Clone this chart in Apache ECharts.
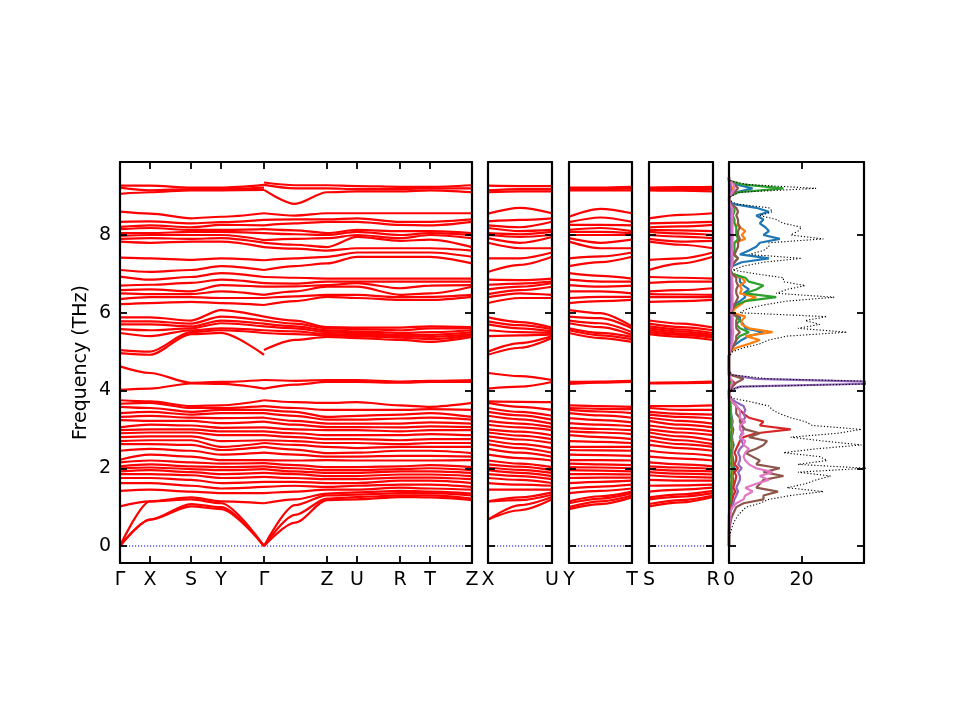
<!DOCTYPE html>
<html>
<head>
<meta charset="utf-8">
<script src="https://cdn.jsdelivr.net/npm/echarts@6/dist/echarts.min.js"></script>
<style>
html,body{margin:0;padding:0;background:#fff;}
#chart{width:960px;height:720px;}
</style>
</head>
<body>
<div id="chart"></div>
<script>
// ---------- Band structure data (THz), sorted band values at each k-point ----------
const kG0 = [0,0,0, 1.02,1.42,1.62,1.75,1.85,1.92,2.00,2.05,2.15, 2.22,2.45,2.62,2.70,2.80,2.90,2.98, 3.05,3.24,3.32,3.42,3.58,3.66,3.75, 4.02,4.62, 4.96,5.04,5.48,5.58,5.70,5.78,5.88, 6.22,6.35,6.50,6.58,6.70,6.93, 7.10,7.42, 7.83,7.90,7.98,8.05,8.15,8.21,8.34,8.60, 9.06,9.22,9.27];
const kX  = [0.68,0.68,1.15, 1.15,1.45,1.62,1.75,1.85,1.95,2.02,2.10,2.20, 2.35,2.50,2.62,2.72,2.82,2.92,3.00, 3.12,3.22,3.35,3.45,3.55,3.68,3.72, 4.05,4.45, 4.92,5.00,5.40,5.55,5.70,5.78,5.88, 6.25,6.40,6.48,6.60,6.72,6.85, 7.05,7.40, 7.80,7.92,8.00,8.05,8.18,8.25,8.35,8.55, 9.10,9.15,9.27];
const kS  = [1.02,1.08,1.20, 1.25,1.40,1.55,1.70,1.82,1.90,1.98,2.05,2.15, 2.30,2.45,2.60,2.72,2.82,2.92,3.00, 3.10,3.22,3.30,3.38,3.45,3.55,3.60, 4.18,4.20, 5.45,5.50,5.55,5.60,5.65,5.72,5.80, 6.28,6.40,6.48,6.55,6.77,6.92, 7.10,7.36, 7.83,7.90,8.00,8.08,8.13,8.20,8.30,8.43, 9.15,9.18,9.22];
const kY  = [0.95,1.00,1.10, 1.15,1.36,1.48,1.62,1.75,1.85,1.95,2.03,2.12, 2.21,2.35,2.47,2.55,2.70,2.85,2.95, 3.04,3.16,3.29,3.42,3.50,3.55,3.62, 4.17,4.22, 5.48,5.55,5.60,5.73,5.80,5.90,6.07, 6.25,6.38,6.55,6.71,6.85,7.02, 7.20,7.40, 7.83,7.92,8.00,8.08,8.13,8.26,8.33,8.47, 9.15,9.18,9.22];
const kGY = [0,0,0, 1.10,1.36,1.52,1.65,1.78,1.88,1.98,2.05,2.13, 2.21,2.40,2.55,2.65,2.72,2.85,2.95, 3.05,3.20,3.30,3.42,3.50,3.60,3.75, 4.05,4.27, 4.92,5.48,5.55,5.65,5.72,5.80,5.90, 6.20,6.38,6.46,6.67,6.76,6.92, 7.10,7.35, 7.69,7.80,7.87,8.05,8.15,8.25,8.39,8.56, 9.16,9.22,9.29];
const kGZ = [0,0,0, 1.10,1.36,1.52,1.65,1.78,1.88,1.98,2.05,2.13, 2.21,2.40,2.55,2.65,2.72,2.85,2.95, 3.05,3.20,3.30,3.42,3.50,3.60,3.75, 4.05,4.27, 5.04,5.48,5.55,5.65,5.72,5.80,5.90, 6.20,6.38,6.46,6.67,6.76,6.92, 7.10,7.35, 7.69,7.80,7.87,8.05,8.15,8.25,8.39,8.56, 9.16,9.29,9.35];
const kM  = [0.60,0.80,1.05, 1.20,1.40,1.55,1.65,1.75,1.85,1.92,2.00,2.08, 2.20,2.35,2.48,2.60,2.70,2.80,2.90, 3.00,3.12,3.22,3.35,3.45,3.55,3.70, 4.15,4.25, 5.30,5.45,5.52,5.60,5.65,5.72,5.80, 6.30,6.42,6.55,6.68,6.75,6.90, 7.20,7.40, 7.65,7.75,7.90,8.02,8.12,8.30,8.40,8.50, 8.80,9.20,9.28];
const kZ  = [1.18,1.22,1.30, 1.35,1.45,1.52,1.62,1.72,1.80,1.88,1.95,2.03, 2.21,2.30,2.39,2.55,2.65,2.75,2.85, 2.98,3.06,3.15,3.25,3.32,3.50,3.68, 4.22,4.27, 5.38,5.42,5.45,5.50,5.55,5.60,5.63, 6.41,6.46,6.67,6.71,6.80,6.88, 7.27,7.44, 7.60,7.69,7.92,8.00,8.05,8.34,8.40,8.56, 9.10,9.20,9.28];
const kU  = [1.20,1.26,1.32, 1.38,1.45,1.55,1.62,1.72,1.80,1.88,1.95,2.03, 2.20,2.30,2.40,2.52,2.65,2.75,2.85, 2.98,3.06,3.15,3.25,3.35,3.50,3.70, 4.22,4.27, 5.35,5.40,5.44,5.48,5.52,5.58,5.62, 6.38,6.46,6.67,6.76,6.80,6.88, 7.44,7.55, 7.66,7.95,8.00,8.08,8.13,8.34,8.43,8.56, 9.12,9.18,9.26];
const kR  = [1.26,1.30,1.36, 1.42,1.50,1.58,1.68,1.76,1.84,1.92,1.98,2.05, 2.20,2.32,2.45,2.55,2.62,2.72,2.85, 2.95,3.05,3.15,3.28,3.38,3.50,3.62, 4.20,4.23, 5.30,5.36,5.40,5.43,5.48,5.55,5.62, 6.33,6.40,6.46,6.63,6.80,6.88, 7.44,7.55, 7.66,7.85,7.92,8.00,8.10,8.26,8.34,8.56, 9.12,9.18,9.24];
const kT  = [1.25,1.30,1.36, 1.40,1.48,1.58,1.68,1.76,1.84,1.92,2.00,2.08, 2.20,2.32,2.45,2.55,2.65,2.75,2.88, 2.98,3.08,3.18,3.30,3.42,3.52,3.58, 4.22,4.25, 5.25,5.32,5.38,5.43,5.50,5.60,5.65, 6.33,6.41,6.50,6.70,6.80,6.88, 7.44,7.55, 7.66,7.88,8.00,8.05,8.10,8.25,8.34,8.56, 9.15,9.20,9.24];
// midpoints of the X-U, Y-T and S-R segments
const kXU = [0.92,1.05,1.18, 1.25,1.45,1.58,1.70,1.80,1.88,1.96,2.04,2.12, 2.26,2.40,2.52,2.62,2.74,2.84,2.94, 3.05,3.15,3.26,3.36,3.45,3.58,3.71, 4.10,4.37, 5.10,5.22,5.42,5.50,5.60,5.68,5.76, 6.38,6.50,6.58,6.67,6.75,6.84, 7.23,7.40, 7.66,7.80,7.95,8.02,8.10,8.20,8.39,8.70, 9.12,9.18,9.26];
const kYT = [1.08,1.15,1.22, 1.28,1.42,1.53,1.65,1.76,1.85,1.94,2.02,2.10, 2.21,2.34,2.46,2.55,2.68,2.80,2.92, 3.01,3.12,3.24,3.36,3.46,3.53,3.60, 4.20,4.23, 5.35,5.42,5.48,5.63,5.73,5.86,5.99, 6.30,6.41,6.55,6.67,6.80,6.95, 7.30,7.45, 7.66,7.80,8.00,8.08,8.18,8.26,8.45,8.67, 9.15,9.18,9.22];
const kSR = [1.12,1.18,1.27, 1.33,1.45,1.56,1.68,1.78,1.86,1.94,2.02,2.10, 2.25,2.38,2.52,2.62,2.72,2.82,2.92, 3.02,3.12,3.22,3.32,3.40,3.50,3.60, 4.19,4.21, 5.38,5.43,5.47,5.52,5.57,5.63,5.72, 6.30,6.40,6.47,6.58,6.80,6.90, 7.27,7.40, 7.75,7.83,7.96,8.04,8.12,8.22,8.32,8.52, 9.14,9.18,9.23];

// path distances (panel 1) and labels
const path1Dist   = [0, 30, 71, 101, 144, 207, 237, 280, 310, 352];
const path1Labels = ['Γ','X','S','Y','Γ','Z','U','R','T','Z'];
const leftDist  = [0, 30, 71, 101, 144];
const rightDist = [144, 175, 207, 237, 280, 310, 352];
const segDist = [0, 0.5, 1];

// ---------- DOS data ----------
const dosFreq = [0.0,0.1,0.2,0.3,0.4,0.5,0.6,0.7,0.8,0.9,1.0,1.1,1.2,1.3,1.4,1.5,1.6,1.7,1.8,1.9,2.0,2.1,2.2,2.3,2.4,2.5,2.6,2.7,2.8,2.9,3.0,3.1,3.2,3.3,3.4,3.5,3.6,3.7,3.8,3.9,4.0,4.1,4.2,4.3,4.4,4.5,4.6,4.7,4.8,4.9,5.0,5.1,5.2,5.3,5.4,5.5,5.6,5.7,5.8,5.9,6.0,6.1,6.2,6.3,6.4,6.5,6.6,6.7,6.8,6.9,7.0,7.1,7.2,7.3,7.4,7.5,7.6,7.7,7.8,7.9,8.0,8.1,8.2,8.3,8.4,8.5,8.6,8.7,8.8,8.9,9.0,9.1,9.2,9.3,9.4,9.5];
const dosTotal = [0,0,0.1,0.3,0.6,0.9,1.3,1.9,2.6,3.6, 4.7,8.5,11,17,26,16,21,24,28,19, 38,19,27,25,15,24,36.5,26,17,30, 36.5,23,21,17,14,12,11,6.5,1,0, 0.2,3,55,11,1,0,0,0,0,0.3, 1,4,8.5,11,16,32.5,19,25,21,27, 3,5,9.5,16,29,13,16,21,15,15, 7.5,1,4,9.5,20,5.5,9.5,11,11,26, 17,19,20,15,13,8.5,12,11,2,0, 0.5,3,24,5,0,0];
const dosBlue = [0,0,0,0,0,0,0,0,0,0.1, 0.3,0.5,0.6,0.8,1,0.8,1,1.2,1,1.2, 1.5,1,1.2,1,0.8,1,1.3,1,0.8,1, 1.2,0.8,1,0.8,0.6,0.5,0.5,0.3,0,0, 0,0.1,1,0.2,0,0,0,0,0,0, 0.1,0.5,2,3.5,5.5,9.5,4.5,4,3,3, 0.5,1,1,3,4.5,4,5.5,4,3,3, 1,0.2,1,3.5,11,3,5.5,7.5,8.5,14, 9.5,11,10,8.5,9.5,7.5,11,7.5,1,0, 0.2,2,6.5,2,0,0];
const dosOrange = [0,0,0,0,0,0,0,0,0,0.1, 0.3,0.4,0.5,0.6,0.7,0.6,0.7,0.8,0.7,0.8, 0.9,0.7,0.8,0.7,0.6,0.7,0.8,0.7,0.6,0.7, 0.8,0.6,0.7,0.6,0.5,0.4,0.4,0.3,0,0, 0,0.1,0.8,0.2,0,0,0,0,0,0, 0.5,2,5.5,8.5,4.5,12,5.5,3.5,3.5,4.5, 1,1.5,3,4.5,7.5,3,3.5,3,4.5,3.5, 1,0.2,0.5,0.8,1,0.5,0.8,1,1.5,4.5, 3.5,4.5,3,1.5,1,0.8,1,0.8,0.2,0, 0,0.3,1,0.3,0,0];
const dosGreen = [0,0,0,0,0,0,0,0,0,0.1, 0.2,0.3,0.4,0.5,0.6,0.5,0.6,0.7,0.6,0.7, 0.8,0.6,0.7,0.6,0.5,0.6,0.7,0.6,0.5,0.6, 0.7,0.5,0.6,0.5,0.4,0.4,0.3,0.2,0,0, 0,0.1,0.6,0.1,0,0,0,0,0,0, 0.2,0.8,1.5,2,3,5.5,3,2,3,2, 0.5,1,2,4.5,13,4.5,7.5,9.5,5.5,4.5, 1,0.3,0.8,1.5,2.5,1,1.5,1.5,1.5,2.5, 2,2,2,1.5,1.5,1,1.5,1.5,0.3,0, 0.2,2.5,15,3.5,0,0];
const dosRed = [0,0,0,0,0,0,0,0.1,0.2,0.3, 0.5,0.8,1,1.2,1.8,1.2,1.5,1.8,2,1.5, 2.5,1.5,2,2,1.5,2,2.5,3,4,7.5, 17,8.5,9.5,5.5,4,3,2,1,0.2,0, 0,0.2,1.5,0.3,0,0,0,0,0,0, 0.2,0.3,0.4,0.4,0.5,0.5,0.4,0.4,0.4,0.4, 0.2,0.3,0.4,0.4,0.5,0.4,0.4,0.4,0.4,0.4, 0.2,0.1,0.3,0.4,0.4,0.3,0.4,0.4,0.4,0.5, 0.4,0.4,0.4,0.4,0.4,0.3,0.4,0.4,0.1,0, 0.1,0.3,0.5,0.3,0,0];
const dosPurple = [0,0,0,0,0,0.1,0.15,0.2,0.3,0.4, 0.8,1.2,1.5,2,2.5,2,2.5,3,3,2.5, 3.5,2.5,3,3,2.5,3,4,3.5,3,3.5, 4,3.5,3.5,4.5,4,4.5,4,2,0.3,0, 0.1,3,50,7.5,0.5,0,0,0,0,0, 0.2,0.3,0.4,0.4,0.5,0.5,0.4,0.4,0.4,0.4, 0.2,0.3,0.4,0.4,0.5,0.4,0.4,0.4,0.4,0.4, 0.2,0.1,0.3,0.4,0.4,0.3,0.4,0.4,0.4,0.5, 0.4,0.4,0.4,0.4,0.4,0.3,0.4,0.4,0.1,0, 0.1,0.3,0.5,0.3,0,0];
const dosBrown = [0,0,0,0,0,0.2,0.4,0.6,1,1.5, 2,4,9.5,9.5,13.5,7.5,8.5,9.5,15,9.5, 14,7.5,8.5,6.5,4.5,7.5,9.5,10.5,5.5,8.5, 4.5,3.5,3,3,2,2,2,1,0.2,0, 0.2,1,2,4,0.5,0,0,0,0,0, 0.3,1,1.5,2,2,3,2,2,2,2.5, 0.5,1,1.5,2,2.5,2,2,2.5,2,2, 0.8,0.3,0.8,1.5,2.5,1.5,2,2.5,2.5,3, 2.5,2.5,3,2.5,2.5,2,2.5,2,0.5,0, 0.3,1.5,2.5,1.5,0,0];
const dosPink = [0,0,0,0,0,0.1,0.2,0.3,0.4,0.5, 1,2,4,4.5,6.5,4.5,7.5,11,8.5,12, 7.5,5.5,4.5,4,4.5,5.5,4,4.5,3,4, 3,3,4.5,3,3,3,2,1,0.2,0, 0,0.3,1,0.5,0,0,0,0,0,0, 0.2,0.5,0.8,1,1,1.2,1,1,1,1, 0.3,0.8,0.9,1,1,0.9,1,1,0.9,0.9, 0.4,0.2,0.8,0.9,1,0.8,0.9,1,0.9,1, 1,0.9,1,0.9,0.9,0.8,1,0.9,0.2,0, 0.2,1,1.5,1.3,0,0];

// ---------- layout ----------
const Y_MIN = -0.437, Y_MAX = 9.878;
const yTicks = [0, 2, 4, 6, 8];
const grids = [
  {left: 120, top: 162, width: 352, height: 401},
  {left: 488, top: 162, width: 64,  height: 401},
  {left: 569, top: 162, width: 63,  height: 401},
  {left: 649, top: 162, width: 64,  height: 401},
  {left: 729, top: 162, width: 135, height: 401}
];
const FONT = 'DejaVu Sans';
const FS = 19;
const axLine = {show: true, onZero: false, lineStyle: {color: '#000', width: 2.2}};
const tickStyle = {color: '#000', width: 1.8};

const xAxes = [], yAxes = [];
function addX(gi, min, max, ticks, labels, showLabels) {
  const lbl = v => { const i = ticks.indexOf(v); return i >= 0 ? String(labels[i]) : ''; };
  xAxes.push({type: 'value', gridIndex: gi, min, max, position: 'bottom', z: 10,
    axisLine: axLine, splitLine: {show: false},
    axisTick: {show: true, inside: true, length: 7, lineStyle: tickStyle, customValues: ticks},
    axisLabel: {show: showLabels, customValues: ticks, formatter: lbl, color: '#000', fontSize: FS, fontFamily: FONT, margin: 8}});
  xAxes.push({type: 'value', gridIndex: gi, min, max, position: 'top', z: 10,
    axisLine: axLine, splitLine: {show: false},
    axisTick: {show: true, inside: true, length: 7, lineStyle: tickStyle, customValues: ticks},
    axisLabel: {show: false}});
}
function addY(gi, showLabels, name) {
  yAxes.push({type: 'value', gridIndex: gi, min: Y_MIN, max: Y_MAX, position: 'left', z: 10,
    name: name || '', nameLocation: 'middle', nameGap: 29,
    nameTextStyle: {color: '#000', fontSize: FS, fontFamily: FONT},
    axisLine: axLine, splitLine: {show: false},
    axisTick: {show: true, inside: true, length: 7, lineStyle: tickStyle, customValues: yTicks},
    axisLabel: {show: showLabels, customValues: yTicks, color: '#000', fontSize: FS, fontFamily: FONT, margin: 9}});
  yAxes.push({type: 'value', gridIndex: gi, min: Y_MIN, max: Y_MAX, position: 'right', z: 10,
    axisLine: axLine, splitLine: {show: false},
    axisTick: {show: true, inside: true, length: 7, lineStyle: tickStyle, customValues: yTicks},
    axisLabel: {show: false}});
}
addX(0, 0, 352, path1Dist, path1Labels, true);  addY(0, true, 'Frequency (THz)');
addX(1, 0, 1, [0, 1], ['X', 'U'], true);        addY(1, false);
addX(2, 0, 1, [0, 1], ['Y', 'T'], true);        addY(2, false);
addX(3, 0, 1, [0, 1], ['S', 'R'], true);        addY(3, false);
addX(4, 0, 37.2, [0, 20], [0, 20], true);       addY(4, false);

const series = [];
function zeroLine(gi, xmax) {
  series.push({type: 'line', xAxisIndex: 2 * gi, yAxisIndex: 2 * gi, data: [[0, 0], [xmax, 0]],
    symbol: 'none', silent: true, z: 1, lineStyle: {color: '#0000ff', width: 1, type: [1.2, 1.8]}});
}
function bands(gi, nodes, xs) {
  const n = nodes[0].length;
  for (let b = 0; b < n; b++) {
    series.push({type: 'line', xAxisIndex: 2 * gi, yAxisIndex: 2 * gi,
      data: xs.map((x, j) => [x, nodes[j][b]]),
      smooth: 0.3, smoothMonotone: 'x', symbol: 'none', silent: true, z: 2, clip: true,
      lineStyle: {color: '#ff0000', width: 2.2}});
  }
}
zeroLine(0, 352); zeroLine(1, 1); zeroLine(2, 1); zeroLine(3, 1);
bands(0, [kG0, kX, kS, kY, kGY], leftDist);
bands(0, [kGZ, kM, kZ, kU, kR, kT, kZ], rightDist);
bands(1, [kX, kXU, kU], segDist);
bands(2, [kY, kYT, kT], segDist);
bands(3, [kS, kSR, kR], segDist);

const pdos = [
  [dosBlue, '#1f77b4'], [dosOrange, '#ff7f0e'], [dosGreen, '#2ca02c'], [dosRed, '#d62728'],
  [dosPurple, '#9467bd'], [dosBrown, '#8c564b'], [dosPink, '#e377c2']
];
pdos.forEach(([vals, col]) => {
  series.push({type: 'line', xAxisIndex: 8, yAxisIndex: 8, data: dosFreq.map((f, i) => [vals[i], f]),
    symbol: 'none', silent: true, z: 2, clip: true, lineStyle: {color: col, width: 2.2}});
});
series.push({type: 'line', xAxisIndex: 8, yAxisIndex: 8, data: dosFreq.map((f, i) => [dosTotal[i], f]),
  symbol: 'none', silent: true, z: 3, clip: true, lineStyle: {color: '#000', width: 1.1, type: [1.2, 2]}});

const chart = echarts.init(document.getElementById('chart'), null, {renderer: 'canvas'});
chart.setOption({
  animation: false,
  backgroundColor: '#fff',
  grid: grids,
  xAxis: xAxes,
  yAxis: yAxes,
  series: series
});
</script>
</body>
</html>
